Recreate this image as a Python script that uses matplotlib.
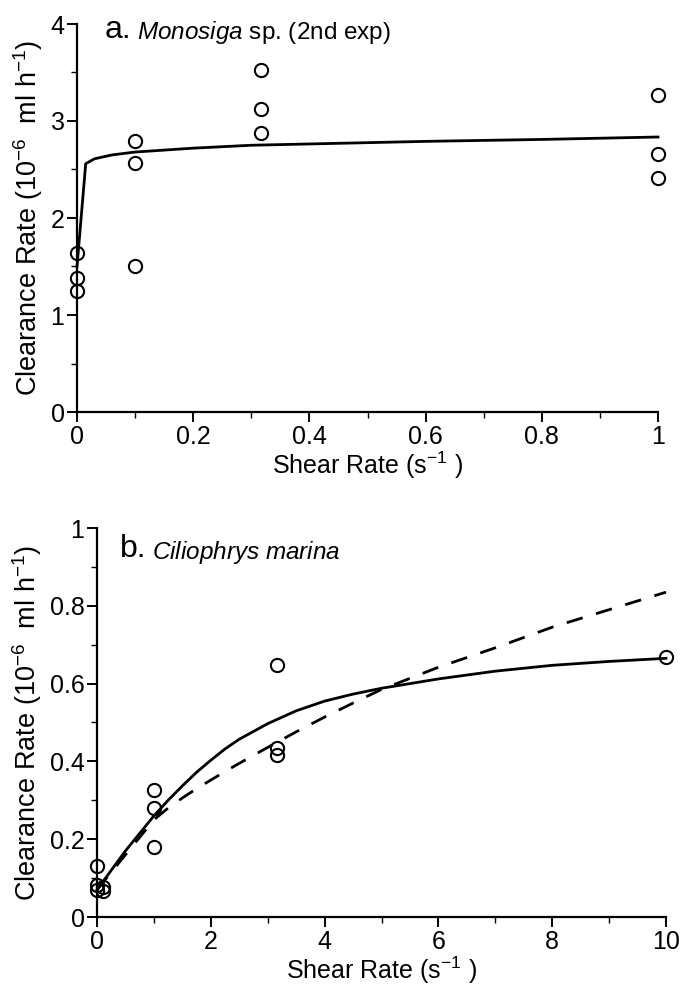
import matplotlib
matplotlib.use("Agg")
import matplotlib.pyplot as plt
from matplotlib.ticker import FixedLocator, MultipleLocator

plt.rcParams['font.family'] = ['Liberation Sans', 'DejaVu Sans']
plt.rcParams['mathtext.fontset'] = 'custom'
plt.rcParams['mathtext.rm'] = 'Liberation Sans'
plt.rcParams['mathtext.it'] = 'Liberation Sans:italic'
plt.rcParams['mathtext.bf'] = 'Liberation Sans:bold'

# ---- Panel a: Monosiga sp. (2nd exp) ----
a_obs_x = [0, 0, 0, 0.1, 0.1, 0.1, 0.316, 0.316, 0.316, 1.0, 1.0, 1.0]
a_obs_y = [1.64, 1.38, 1.25, 2.79, 2.57, 1.51, 3.53, 3.12, 2.88, 3.27, 2.66, 2.41]
a_fit_x = [0, 0.015, 0.03, 0.06, 0.1, 0.15, 0.2, 0.3, 0.45, 0.6, 0.8, 1.0]
a_fit_y = [1.5, 2.56, 2.61, 2.65, 2.68, 2.70, 2.72, 2.75, 2.77, 2.79, 2.81, 2.835]
a_xticks = [0, 0.2, 0.4, 0.6, 0.8, 1.0]
a_xticklabels = ["0", "0.2", "0.4", "0.6", "0.8", "1"]
a_yticks = [0, 1, 2, 3, 4]
a_yticklabels = ["0", "1", "2", "3", "4"]

# ---- Panel b: Ciliophrys marina ----
b_obs_x = [0, 0, 0, 0.1, 0.1, 1, 1, 1, 3.16, 3.16, 3.16, 10]
b_obs_y = [0.13, 0.082, 0.069, 0.078, 0.067, 0.326, 0.28, 0.18, 0.648, 0.434, 0.416, 0.668]
b_fit_x = [0, 0.5, 1, 1.25, 1.5, 1.75, 2, 2.25, 2.5, 3, 3.5, 4, 4.5, 5, 6, 7, 8, 9, 10]
b_fit_solid = [0.07, 0.17, 0.26, 0.30, 0.337, 0.372, 0.403, 0.432, 0.457, 0.497, 0.53, 0.555, 0.573, 0.588,
               0.612, 0.632, 0.647, 0.657, 0.665]
b_fit_dashed = [0.07, 0.16, 0.25, 0.28, 0.306, 0.33, 0.352, 0.374, 0.395, 0.436, 0.476, 0.514, 0.55, 0.585,
                0.642, 0.692, 0.745, 0.79, 0.835]
b_xticks = [0, 2, 4, 6, 8, 10]
b_xticklabels = ["0", "2", "4", "6", "8", "10"]
b_yticks = [0, 0.2, 0.4, 0.6, 0.8, 1.0]
b_yticklabels = ["0", "0.2", "0.4", "0.6", "0.8", "1"]

ylabel = "Clearance Rate (10$^{-6}$  ml h$^{-1}$)"
xlabel = "Shear Rate (s$^{-1}$ )"

fig = plt.figure(figsize=(6.8, 9.88), dpi=100)
ax1 = fig.add_axes([77/680, 1-412/988, (658-77)/680, (412-24)/988])
ax2 = fig.add_axes([97/680, 1-917/988, (666-97)/680, (917-528)/988])

def style(ax):
    for s in ['top', 'right']:
        ax.spines[s].set_visible(False)
    for s in ['left', 'bottom']:
        ax.spines[s].set_linewidth(1.6)
    ax.tick_params(which='major', direction='out', length=7, width=1.4, labelsize=18, pad=2)
    ax.tick_params(which='minor', direction='out', length=4, width=1.0)

mk = dict(marker='o', markersize=9.5, markerfacecolor='none', markeredgecolor='black',
          markeredgewidth=1.5, linestyle='none', clip_on=False, zorder=3)

# Panel a
ax1.plot(a_fit_x, a_fit_y, color='black', lw=2.0, clip_on=False)
ax1.plot(a_obs_x, a_obs_y, **mk)
ax1.set_xlim(0, 1)
ax1.set_ylim(0, 4)
ax1.xaxis.set_major_locator(FixedLocator(a_xticks))
ax1.set_xticklabels(a_xticklabels)
ax1.yaxis.set_major_locator(FixedLocator(a_yticks))
ax1.set_yticklabels(a_yticklabels)
ax1.xaxis.set_minor_locator(MultipleLocator(0.1))
ax1.yaxis.set_minor_locator(MultipleLocator(0.5))
style(ax1)
ax1.set_xlabel(xlabel, fontsize=18, labelpad=1)
ax1.set_ylabel(ylabel, fontsize=19.5, labelpad=4)
t1 = ax1.text(0.048, 3.86, "a.", fontsize=23, va='baseline', ha='left')
ax1.annotate("$\\mathit{Monosiga}$ sp. (2nd exp)", xy=(1, 0), xycoords=t1,
             xytext=(4, -1), textcoords='offset points', fontsize=17.5, va='bottom', ha='left')

# Panel b
ax2.plot(b_fit_x, b_fit_solid, color='black', lw=2.0, clip_on=False)
dl, = ax2.plot(b_fit_x, b_fit_dashed, color='black', lw=2.0, clip_on=False)
dl.set_dashes((6, 5))
ax2.plot(b_obs_x, b_obs_y, **mk)
ax2.set_xlim(0, 10)
ax2.set_ylim(0, 1)
ax2.xaxis.set_major_locator(FixedLocator(b_xticks))
ax2.set_xticklabels(b_xticklabels)
ax2.yaxis.set_major_locator(FixedLocator(b_yticks))
ax2.set_yticklabels(b_yticklabels)
ax2.xaxis.set_minor_locator(MultipleLocator(1))
ax2.yaxis.set_minor_locator(MultipleLocator(0.1))
style(ax2)
ax2.set_xlabel(xlabel, fontsize=18, labelpad=1)
ax2.set_ylabel(ylabel, fontsize=19.5, labelpad=4)
t2 = ax2.text(0.4, 0.925, "b.", fontsize=23, va='baseline', ha='left')
ax2.annotate("$\\mathit{Ciliophrys\\ marina}$", xy=(1, 0), xycoords=t2,
             xytext=(4, -1), textcoords='offset points', fontsize=17.5, va='bottom', ha='left')

fig.savefig("out.png", dpi=100)
